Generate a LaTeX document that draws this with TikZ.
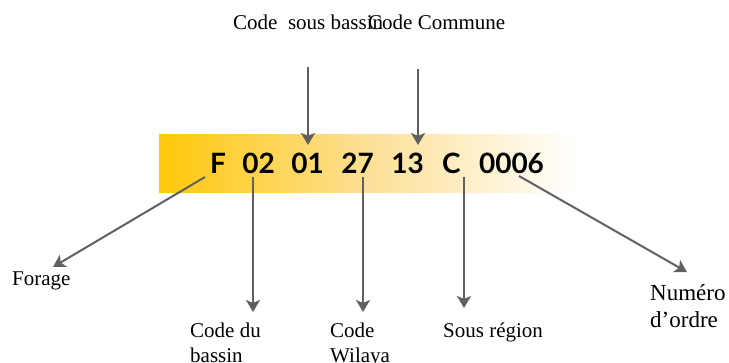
\documentclass[tikz,border=0pt]{standalone}
\usepackage{fontspec}
\setmainfont{Liberation Serif}
\newfontfamily\codefont{Lato}
\usetikzlibrary{arrows.meta}
\definecolor{arrgray}{RGB}{96,96,96}
\definecolor{baryellow}{RGB}{255,200,10}
\tikzset{
  lbl/.style={inner sep=0pt, font=\fontsize{21}{25}\selectfont, align=left},
  bigl/.style={inner sep=0pt, font=\fontsize{23}{27}\selectfont, align=left},
  tok/.style={inner sep=0pt, anchor=base, font=\codefont\bfseries\fontsize{28}{30}\selectfont},
  pointer/.style={draw=arrgray, line width=2pt, -{Stealth[length=12pt,width=14pt,inset=3pt]}, color=arrgray}
}
\begin{document}
\begin{tikzpicture}[x=1pt,y=-1pt]
\useasboundingbox (0,0) rectangle (729,362);
% bar
\shade[left color=baryellow, right color=white, middle color={rgb,255:red,253;green,224;blue,150}] (159,134) rectangle (578,192);
% code tokens
\node[tok] (tF) at (218,173) {F};
\node[tok] (t02) at (258.5,173) {02};
\node[tok] (t01) at (307.5,173) {01};
\node[tok] (t27) at (357.5,173) {27};
\node[tok] (t13) at (407.5,173) {13};
\node[tok] (tC) at (451.5,173) {C};
\node[tok] (t0006) at (511.5,173) {0006};
% top labels
\node[lbl, anchor=base west] (lsb) at (233,29) {Code\ \ sous bassin};
\node[lbl, anchor=base west] (lcc) at (368,29) {Code Commune};
% bottom labels
\node[lbl, anchor=base west] (lfor) at (12,285) {Forage};
\node[lbl, anchor=north west] (lcb) at (190,322.5) {Code du\\bassin};
\node[lbl, anchor=north west] (lcw) at (330,322.5) {Code\\Wilaya};
\node[lbl, anchor=base west] (lsr) at (443,337) {Sous région};
\node[bigl, anchor=north west] (lno) at (650,284) {Numéro\\d’ordre};
% connector end points
\coordinate (s1) at (308,67);
\coordinate (e1) at (308,145);
\coordinate (s2) at (418,69);
\coordinate (e2) at (418,145);
\coordinate (bF) at (205,177);
\coordinate (aF) at (53,267);
\coordinate (b02) at (253,177);
\coordinate (a02) at (253,312);
\coordinate (b27) at (363,177);
\coordinate (a27) at (363,312);
\coordinate (bC) at (464,177);
\coordinate (aC) at (464,308);
\coordinate (b06) at (519,176);
\coordinate (a06) at (687,272);
% arrows
\draw[pointer] (s1) -- (e1);
\draw[pointer] (s2) -- (e2);
\draw[pointer] (bF) -- (aF);
\draw[pointer] (b02) -- (a02);
\draw[pointer] (b27) -- (a27);
\draw[pointer] (bC) -- (aC);
\draw[pointer] (b06) -- (a06);
\end{tikzpicture}
\end{document}
